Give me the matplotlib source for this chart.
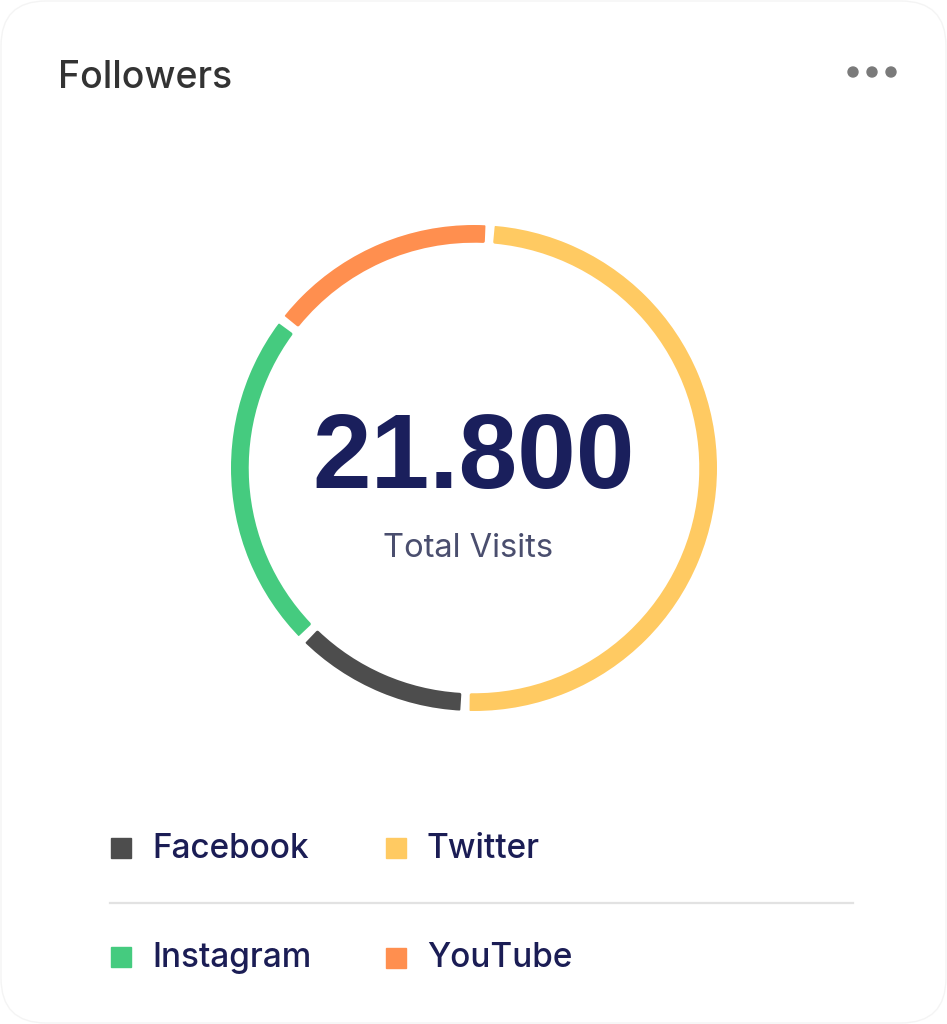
import numpy as np
import matplotlib.pyplot as plt
from matplotlib.patches import FancyBboxPatch, Rectangle, Circle

# data
platforms = ['Twitter', 'Facebook', 'Instagram', 'YouTube']   # clockwise from top
followers = [10800, 2600, 5000, 3400]
colors = ['#FFCA62', '#4D4D4D', '#45CB7F', '#FF8F4F']
legend_order = ['Facebook', 'Twitter', 'Instagram', 'YouTube']
total_label = '21.800'
subtitle = 'Total Visits'
title = 'Followers'

W, H = 947, 1024
fig = plt.figure(figsize=(W / 100, H / 100), dpi=100)
fig.patch.set_facecolor('white')

# background axes in pixel coords
bg = fig.add_axes([0, 0, 1, 1])
bg.set_xlim(0, W)
bg.set_ylim(H, 0)
bg.axis('off')

card = FancyBboxPatch((1, 1), W - 2, H - 2, boxstyle='round,pad=0,rounding_size=45',
                      facecolor='white', edgecolor='#f4f4f4', linewidth=1.0)
bg.add_patch(card)

bg.text(58, 88, title, fontsize=27, family='Inter', weight='medium', color='#333333',
        va='baseline', ha='left')
for x in [853, 872, 891]:
    bg.add_patch(Circle((x, 72), 5, color='#7a7a7a'))

bg.text(474, 488, total_label, fontsize=76, family='Liberation Sans', weight='bold',
        color='#1A1F5C', ha='center', va='baseline')
bg.text(468, 557, subtitle, fontsize=23.5, family='Inter', color='#4A4E6E',
        ha='center', va='baseline')

# legend
lx = {'Facebook': (121, 848), 'Twitter': (396, 848), 'Instagram': (121, 957), 'YouTube': (396, 958)}
cmap = dict(zip(platforms, colors))
for name in legend_order:
    cx, cy = lx[name]
    bg.add_patch(Rectangle((cx - 10, cy - 10), 20, 20, color=cmap[name]))
    base = 858 if cy < 900 else 967
    bg.text(cx + 31, base, name, fontsize=24, family='Inter', weight='medium',
            color='#1B1D55', ha='left', va='baseline')
bg.plot([110, 853], [903, 903], color='#e2e2e2', linewidth=1.6)

# donut
cx, cy, r_out, ring = 474, 468, 243, 17
ax = fig.add_axes([(cx - r_out) / W, (H - cy - r_out) / H, 2 * r_out / W, 2 * r_out / H],
                  projection='polar')
ax.set_theta_zero_location('N')
ax.set_theta_direction(-1)
ax.set_ylim(0, r_out)
ax.axis('off')

vals = np.array(followers, dtype=float)
spans = vals / vals.sum() * 2 * np.pi
starts = np.deg2rad(3.8) + np.concatenate([[0], np.cumsum(spans)[:-1]])
gap = np.deg2rad(3.0)
ax.bar(starts + spans / 2, ring - 2, width=spans - gap, bottom=r_out - ring + 1,
       color=colors, edgecolor=colors, linewidth=2.5, joinstyle='round')

fig.savefig('out.png', dpi=100, facecolor='white')
